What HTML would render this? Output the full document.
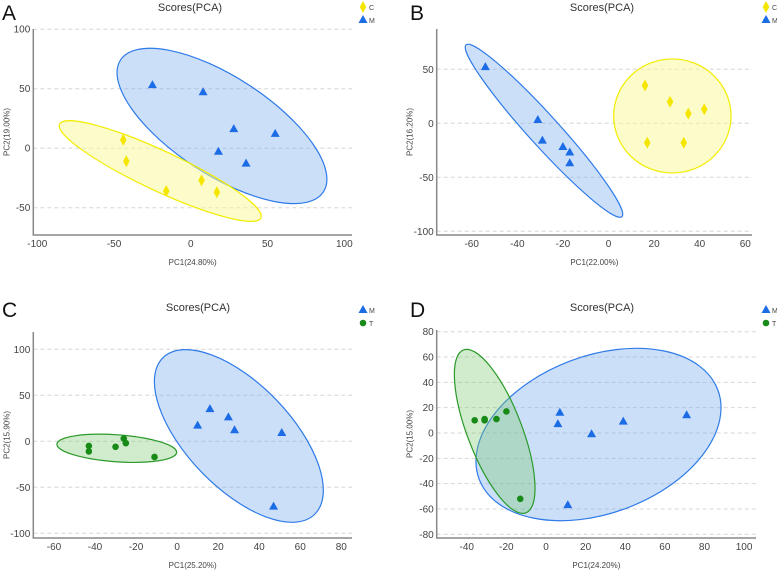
<!DOCTYPE html>
<html><head><meta charset="utf-8"><style>
body{margin:0;background:#fff;font-family:"Liberation Sans",sans-serif}
svg text{font-family:"Liberation Sans",sans-serif}
</style></head><body>
<svg id="s" width="777" height="572" xmlns="http://www.w3.org/2000/svg"></svg>
<script>
// Panel A data
const aM = [[-25,53],[8,47],[28,16],[55,12],[18,-3],[36,-13]];
const aC = [[-44,7],[-42,-11],[-16,-36],[7,-27],[17,-37]];
// Panel B data
const bM = [[-54,52],[-31,3],[-29,-16],[-20,-22],[-17,-27],[-17,-37]];
const bC = [[16,35],[27,20],[35,9],[42,13],[17,-18],[33,-18]];
// Panel C data
const cM = [[10,17],[16,35],[25,26],[28,12],[51,9],[47,-71]];
const cT = [[-43,-5],[-43,-11],[-30,-6],[-26,3],[-25,-2],[-11,-17]];
// Panel D data
const dM = [[7,16],[6,7],[23,-1],[39,9],[71,14],[11,-57]];
const dT = [[-36,10],[-31,10],[-31,11],[-25,11],[-20,17],[-13,-52]];
// ellipse centers (data units)
const aEllM=[20.3,18.7], aEllC=[-19.9,-19.2];
const bEllM=[-28.3,-6.9], bEllC=[28,6.8];
const cEllM=[30.1,5.8], cEllT=[-29.4,-7.6];
const dEllM=[26.5,-1.2], dEllT=[-25.9,1.3];
// tick labels
const aXT=[-100,-50,0,50,100], aYT=[100,50,0,-50];
const bXT=[-60,-40,-20,0,20,40,60], bYT=[50,0,-50,-100];
const cXT=[-60,-40,-20,0,20,40,60,80], cYT=[100,50,0,-50,-100];
const dXT=[-40,-20,0,20,40,60,80,100], dYT=[80,60,40,20,0,-20,-40,-60,-80];

const NS="http://www.w3.org/2000/svg";
const svg=document.getElementById('s');
function el(t,a,p){const e=document.createElementNS(NS,t);for(const k in a)e.setAttribute(k,a[k]);(p||svg).appendChild(e);return e;}
const COL={M:{s:'#2f7be8',fill:'rgba(120,170,240,0.38)',m:'#1c6ce6'},
 C:{s:'#f2ec00',fill:'rgba(250,250,150,0.5)',m:'#f4e600'},
 T:{s:'#2a9a2a',fill:'rgba(120,200,110,0.35)',m:'#178a17'}};

function panel(o){
  const g=el('g',{});
  
  
  const X=v=>o.x0+o.kx*v, Y=v=>o.y0-o.ky*v;
  o.yt.forEach(v=>{const l=el('line',{x1:o.L,x2:o.R,y1:Y(v),y2:Y(v),stroke:'#d6d6d6','stroke-dasharray':'4,3','stroke-width':1},g);
    
    const t=el('text',{x:o.L-3,y:Y(v)+3.5,'text-anchor':'end','font-size':10,fill:'#444'},g);t.textContent=v;
    });
  o.xt.forEach(v=>{const t=el('text',{x:X(v),y:o.B+12,'text-anchor':'middle','font-size':10,fill:'#444'},g);t.textContent=v;
    });
  o.ells.forEach(e=>{const c=COL[e.g];const E=el('ellipse',{cx:0,cy:0,rx:e.a,ry:e.b,fill:c.fill,stroke:c.s,'stroke-width':1.2,transform:`translate(${X(e.c[0])},${Y(e.c[1])}) rotate(${e.r})`},g);
    });
  const ax=el('path',{d:`M${o.L},${o.T}V${o.B}H${o.R}`,fill:'none',stroke:'#888','stroke-width':1.5},g);
  
  o.series.forEach(s=>{s.d.forEach(p=>{marker(g,s.g,X(p[0]),Y(p[1]),'point-'+s.g.toLowerCase());});});
  let t=el('text',{x:o.tx,y:o.ty,'text-anchor':'middle','font-size':11,fill:'#333'},g);t.textContent='Scores(PCA)';
  
  t=el('text',{x:o.lx,y:o.ly,'font-size':21,fill:'#111'},g);t.textContent=o.id;
  
  t=el('text',{x:(o.L+o.R)/2,y:o.B+30,'text-anchor':'middle','font-size':8,fill:'#444'},g);t.textContent=o.xl;
  
  const yc=(o.T+o.B)/2;
  t=el('text',{x:0,y:0,'text-anchor':'middle','font-size':8,fill:'#444',transform:`translate(${o.L-24},${yc}) rotate(-90)`},g);t.textContent=o.yl;
  
  o.leg.forEach((k,i)=>{const yy=o.legY+i*13;marker(g,k,o.legX,yy,'legend-marker');
    const lt=el('text',{x:o.legX+6,y:yy+3,'font-size':7,fill:'#444'},g);lt.textContent=k;
    });
}
function marker(g,k,x,y,name){
  let m;const c=COL[k].m;
  if(k==='M') m=el('polygon',{points:`${x},${y-5} ${x+4.5},${y+3} ${x-4.5},${y+3}`,fill:c},g);
  else if(k==='C') m=el('polygon',{points:`${x},${y-6} ${x+3.3},${y} ${x},${y+6} ${x-3.3},${y}`,fill:c},g);
  else m=el('circle',{cx:x,cy:y,r:3.3,fill:c},g);
  
}
panel({id:'A',x0:190.8,kx:1.535,y0:148.2,ky:1.19,L:33.3,R:352,T:29,B:235,xt:aXT,yt:aYT,
 ells:[{g:'M',c:aEllM,a:121,b:49,r:33},{g:'C',c:aEllC,a:111,b:20,r:25}],
 series:[{g:'C',d:aC},{g:'M',d:aM}],tx:190,ty:11,lx:2,ly:20,xl:'PC1(24.80%)',yl:'PC2(19.00%)',leg:['C','M'],legX:363,legY:7});
panel({id:'B',x0:608.5,kx:2.28,y0:123.3,ky:1.08,L:436.7,R:752,T:29,B:235,xt:bXT,yt:bYT,
 ells:[{g:'M',c:bEllM,a:116,b:15.3,r:47.8},{g:'C',c:bEllC,a:58.7,b:57,r:0}],
 series:[{g:'C',d:bC},{g:'M',d:bM}],tx:602,ty:11,lx:410,ly:20,xl:'PC1(22.00%)',yl:'PC2(16.20%)',leg:['C','M'],legX:766,legY:7});
panel({id:'C',x0:177.1,kx:2.052,y0:441.3,ky:0.92,L:33.3,R:352,T:332,B:538,xt:cXT,yt:cYT,
 ells:[{g:'M',c:cEllM,a:109,b:52,r:46},{g:'T',c:cEllT,a:60,b:13.5,r:4}],
 series:[{g:'T',d:cT},{g:'M',d:cM}],tx:198,ty:311,lx:2,ly:317,xl:'PC1(25.20%)',yl:'PC2(15.90%)',leg:['M','T'],legX:363,legY:310});
panel({id:'D',x0:546,kx:1.981,y0:433,ky:1.266,L:436.7,R:756,T:330,B:538,xt:dXT,yt:dYT,
 ells:[{g:'M',c:dEllM,a:127.4,b:78.8,r:-20.4},{g:'T',c:dEllT,a:87.2,b:27.3,r:69}],
 series:[{g:'T',d:dT},{g:'M',d:dM}],tx:602,ty:311,lx:410,ly:317,xl:'PC1(24.20%)',yl:'PC2(15.00%)',leg:['M','T'],legX:766,legY:310});
</script>
</body></html>
